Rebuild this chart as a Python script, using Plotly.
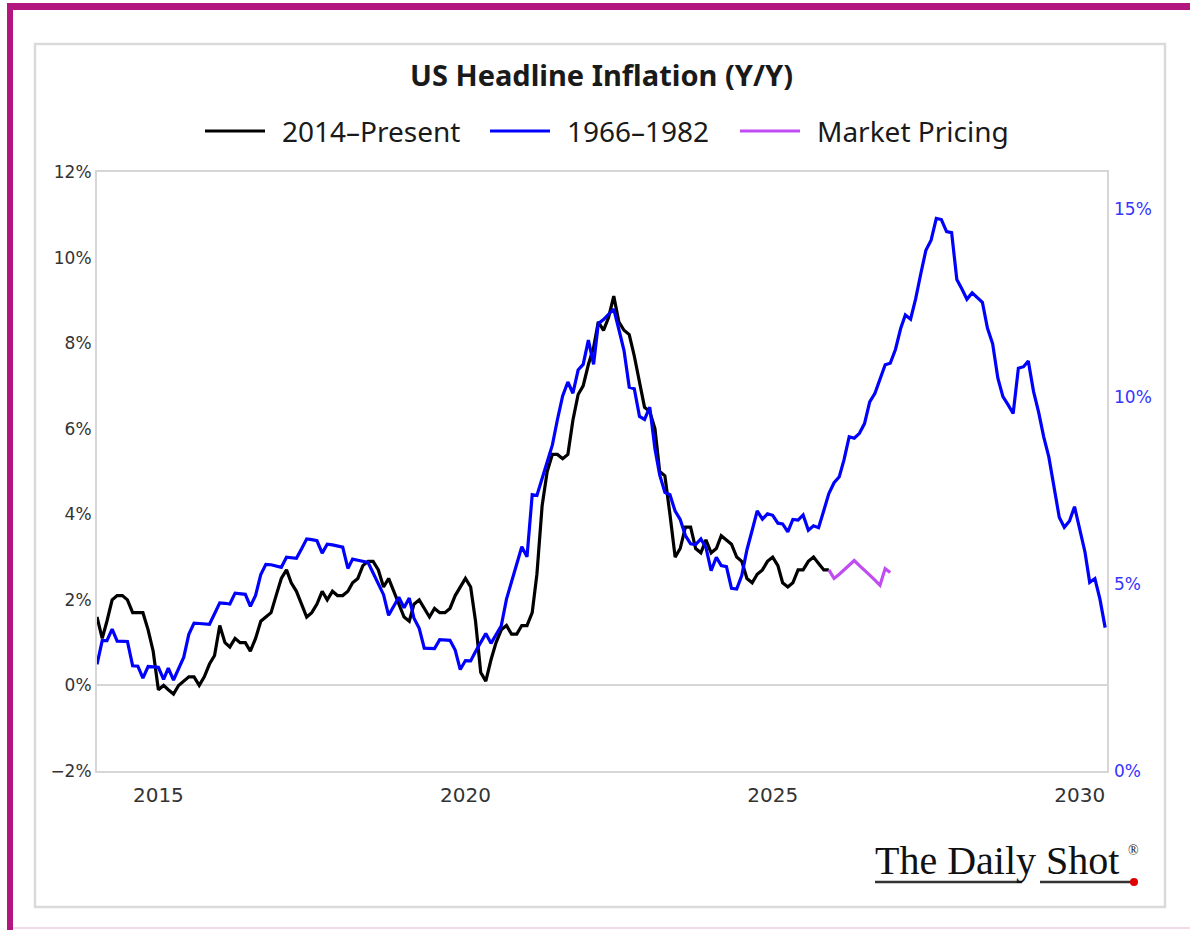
import pandas as pd
import plotly.graph_objects as go

# ---------------- data ----------------
# US CPI headline inflation, Y/Y %, monthly from Jan 2014
present_start = "2014-01-01"
present_values = [
    1.6, 1.1, 1.5, 2.0, 2.1, 2.1, 2.0, 1.7, 1.7, 1.7, 1.3, 0.8,
    -0.1, 0.0, -0.1, -0.2, 0.0, 0.1, 0.2, 0.2, 0.0, 0.2, 0.5, 0.7,
    1.4, 1.0, 0.9, 1.1, 1.0, 1.0, 0.8, 1.1, 1.5, 1.6, 1.7, 2.1,
    2.5, 2.7, 2.4, 2.2, 1.9, 1.6, 1.7, 1.9, 2.2, 2.0, 2.2, 2.1,
    2.1, 2.2, 2.4, 2.5, 2.8, 2.9, 2.9, 2.7, 2.3, 2.5, 2.2, 1.9,
    1.6, 1.5, 1.9, 2.0, 1.8, 1.6, 1.8, 1.7, 1.7, 1.8, 2.1, 2.3,
    2.5, 2.3, 1.5, 0.3, 0.1, 0.6, 1.0, 1.3, 1.4, 1.2, 1.2, 1.4,
    1.4, 1.7, 2.6, 4.2, 5.0, 5.4, 5.4, 5.3, 5.4, 6.2, 6.8, 7.0,
    7.5, 7.9, 8.5, 8.3, 8.6, 9.1, 8.5, 8.3, 8.2, 7.7, 7.1, 6.5,
    6.4, 6.0, 5.0, 4.9, 4.0, 3.0, 3.2, 3.7, 3.7, 3.2, 3.1, 3.4,
    3.1, 3.2, 3.5, 3.4, 3.3, 3.0, 2.9, 2.5, 2.4, 2.6, 2.7, 2.9,
    3.0, 2.8, 2.4, 2.3, 2.4, 2.7, 2.7, 2.9, 3.0, 2.85, 2.7, 2.7,
]

# 1966-1982 CPI Y/Y % (Jul 1966 .. Dec 1982), shifted to start at Jan 2014 (right axis)
hist_start = "2014-01-01"
hist_values = [
    2.85, 3.48, 3.48, 3.79, 3.47, 3.46,
    3.46, 2.81, 2.80, 2.48, 2.79, 2.78, 2.77, 2.45, 2.75, 2.43, 2.74, 3.04,
    3.65, 3.95, 3.94, 3.93, 3.92, 4.20, 4.49, 4.48, 4.46, 4.75, 4.74, 4.72,
    4.40, 4.69, 5.25, 5.52, 5.51, 5.48, 5.44, 5.71, 5.70, 5.68, 5.93, 6.20,
    6.18, 6.15, 5.82, 6.06, 6.04, 6.01, 5.98, 5.41, 5.66, 5.63, 5.60, 5.57,
    5.29, 5.00, 4.71, 4.16, 4.40, 4.64, 4.36, 4.62, 4.08, 3.81, 3.28, 3.27,
    3.27, 3.51, 3.50, 3.49, 3.23, 2.71, 2.95, 2.94, 3.19, 3.42, 3.67, 3.41,
    3.65, 3.88, 4.59, 5.06, 5.53, 5.99, 5.72, 7.38, 7.36, 7.80, 8.25, 8.71,
    9.39, 10.02, 10.39, 10.09, 10.71, 10.86, 11.51, 10.86, 11.95, 12.06, 12.20, 12.34,
    11.80, 11.23, 10.25, 10.21, 9.47, 9.39, 9.72, 8.60, 7.91, 7.44, 7.38, 6.94,
    6.72, 6.29, 6.07, 6.05, 6.20, 5.97, 5.35, 5.71, 5.49, 5.46, 4.88, 4.86,
    5.22, 5.91, 6.43, 6.95, 6.73, 6.87, 6.83, 6.62, 6.60, 6.39, 6.72, 6.70,
    6.84, 6.43, 6.55, 6.50, 6.96, 7.41, 7.70, 7.86, 8.31, 8.93, 8.89, 9.02,
    9.28, 9.86, 10.09, 10.49, 10.85, 10.89, 11.26, 11.82, 12.18, 12.07, 12.61, 13.29,
    13.91, 14.18, 14.76, 14.73, 14.41, 14.38, 13.13, 12.87, 12.60, 12.77, 12.65, 12.52,
    11.83, 11.41, 10.49, 10.00, 9.78, 9.55, 10.76, 10.80, 10.95, 10.14, 9.59, 8.92,
    8.39, 7.62, 6.78, 6.51, 6.68, 7.06, 6.44, 5.85, 5.04, 5.14, 4.59, 3.83,
]

# Market pricing, monthly from Dec 2025
market_start = "2025-12-01"
market_values = [2.7, 2.5, 2.6, 2.7, 2.8, 2.92, 2.8, 2.7, 2.58, 2.46, 2.34, 2.73, 2.64]

series_names = ["2014\u2013Present", "1966\u20131982", "Market Pricing"]
x_tickvals = ["2015-01-01", "2020-01-01", "2025-01-01", "2030-01-01"]
x_ticktext = ["2015", "2020", "2025", "2030"]
left_tickvals = [-2, 0, 2, 4, 6, 8, 10, 12]
left_ticktext = ["\u22122%", "0%", "2%", "4%", "6%", "8%", "10%", "12%"]
right_tickvals = [0, 5, 10, 15]
right_ticktext = ["0%", "5%", "10%", "15%"]

# ---------------- styling / layout ----------------
W, H = 1190, 930
PL, PR, PT, PB = 97, 1107, 172, 771  # plot area in pixels


def px(xp):
    return (xp - PL) / (PR - PL)


def py(yp):
    return (PB - yp) / (PB - PT)


BLACK = "#000000"
BLUE = "#0000ff"
PURPLE = "#c04cf2"
GRID = "#d6d6d6"

present_dates = pd.date_range(present_start, periods=len(present_values), freq="MS")
hist_dates = pd.date_range(hist_start, periods=len(hist_values), freq="MS")
market_dates = pd.date_range(market_start, periods=len(market_values), freq="MS")

fig = go.Figure()
fig.add_trace(go.Scatter(x=present_dates, y=present_values, mode="lines",
                         line=dict(color=BLACK, width=3.2), name=series_names[0],
                         showlegend=False, yaxis="y"))
fig.add_trace(go.Scatter(x=hist_dates, y=hist_values, mode="lines",
                         line=dict(color=BLUE, width=3.2), name=series_names[1],
                         showlegend=False, yaxis="y2"))
fig.add_trace(go.Scatter(x=market_dates, y=market_values, mode="lines",
                         line=dict(color=PURPLE, width=3.2), name=series_names[2],
                         showlegend=False, yaxis="y"))

shapes = []
# magenta outer frame (left and top), faint bottom
shapes.append(dict(type="rect", xref="paper", yref="paper", x0=px(7), x1=px(13), y0=py(930), y1=py(3),
                   fillcolor="#b3177f", line=dict(width=0), layer="above"))
shapes.append(dict(type="rect", xref="paper", yref="paper", x0=px(7), x1=px(1190), y0=py(10), y1=py(3),
                   fillcolor="#b3177f", line=dict(width=0), layer="above"))
shapes.append(dict(type="line", xref="paper", yref="paper", x0=px(13), x1=px(1190), y0=py(928), y1=py(928),
                   line=dict(color="#f2dbe8", width=2)))
# light grey chart box
shapes.append(dict(type="rect", xref="paper", yref="paper", x0=px(35), x1=px(1165), y0=py(907), y1=py(44),
                   line=dict(color="#dadada", width=2.5)))
# legend samples
for x0, col in [(205, BLACK), (490, BLUE), (740, PURPLE)]:
    shapes.append(dict(type="line", xref="paper", yref="paper", x0=px(x0), x1=px(x0 + 60),
                       y0=py(131), y1=py(131), line=dict(color=col, width=3.2)))
# logo underline + red dot
shapes.append(dict(type="line", xref="paper", yref="paper", x0=px(875), x1=px(1022), y0=py(882), y1=py(882),
                   line=dict(color="#333333", width=2.5)))
shapes.append(dict(type="line", xref="paper", yref="paper", x0=px(1040), x1=px(1133), y0=py(882), y1=py(882),
                   line=dict(color="#333333", width=2.5)))
shapes.append(dict(type="circle", xref="paper", yref="paper", x0=px(1130), x1=px(1138), y0=py(886), y1=py(878),
                   fillcolor="#e00000", line=dict(width=0)))

annotations = []
annotations.append(dict(text="<b>US Headline Inflation (Y/Y)</b>", xref="paper", yref="paper",
                        x=px(601), y=py(75), xanchor="center", yanchor="middle", showarrow=False,
                        font=dict(family="Noto Sans", size=29, color="#1a1a1a")))
for xt, name in zip([280, 565, 815], series_names):
    annotations.append(dict(text=name, xref="paper", yref="paper", x=px(xt), y=py(131),
                            xanchor="left", yanchor="middle", showarrow=False,
                            font=dict(family="Noto Sans", size=28, color="#1a1a1a")))
annotations.append(dict(text="The Daily Shot", xref="paper", yref="paper", x=px(873), y=py(860),
                        xanchor="left", yanchor="middle", showarrow=False,
                        font=dict(family="Liberation Serif", size=40, color="#111111")))
annotations.append(dict(text="\u00ae", xref="paper", yref="paper", x=px(1126), y=py(850),
                        xanchor="left", yanchor="middle", showarrow=False,
                        font=dict(family="Liberation Serif", size=14, color="#111111")))

fig.update_layout(
    width=W, height=H,
    margin=dict(l=PL, r=W - PR, t=PT, b=H - PB, pad=0),
    paper_bgcolor="white", plot_bgcolor="white",
    font=dict(family="DejaVu Sans", color="#333333"),
    showlegend=False,
    shapes=shapes,
    annotations=annotations,
    xaxis=dict(type="date", range=["2014-01-01", "2030-06-12"],
               tickvals=x_tickvals, ticktext=x_ticktext,
               tickfont=dict(size=20, color="#333333"),
               showgrid=False, zeroline=False, showline=True, mirror=True,
               linecolor=GRID, linewidth=2, ticks="", ticklabelstandoff=5),
    yaxis=dict(range=[-2, 12], tickvals=left_tickvals, ticktext=left_ticktext,
               tickfont=dict(size=17, color="#333333"),
               showgrid=False, zeroline=True, zerolinecolor=GRID, zerolinewidth=2,
               showline=True, mirror=True, linecolor=GRID, linewidth=2, ticks=""),
    yaxis2=dict(range=[0, 16], tickvals=right_tickvals, ticktext=right_ticktext,
                overlaying="y", side="right",
                tickfont=dict(size=17, color="#3535ff"),
                showgrid=False, zeroline=False, showline=False, ticks="", ticklabelstandoff=6),
)

fig.write_html("out.html", config={"displayModeBar": False},
               post_script="document.body.style.margin='0px';")
